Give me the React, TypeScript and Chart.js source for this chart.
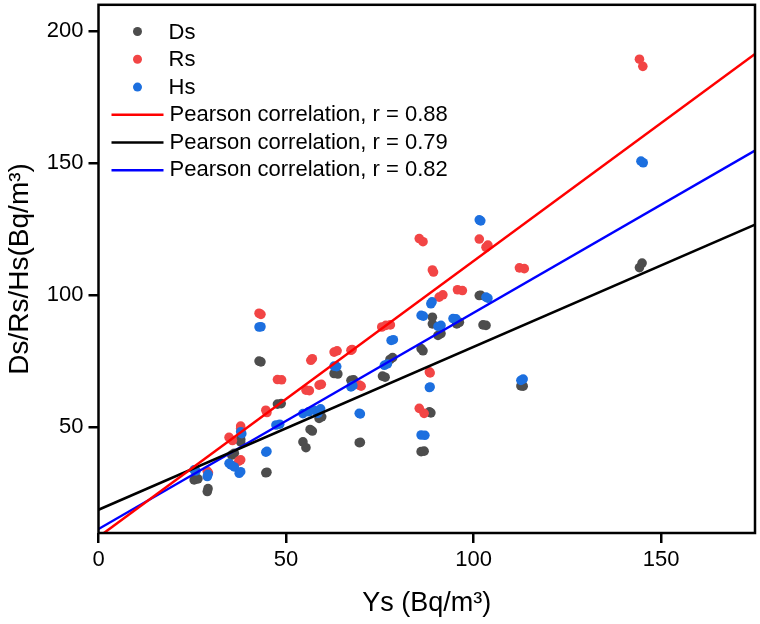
import React, { useEffect, useRef } from "react";
import { Chart, registerables } from "chart.js";

Chart.register(...registerables);

// Axis ticks
const xTicks = [0, 50, 100, 150];
const yTicks = [50, 100, 150, 200];
const xRange = [0, 175];
const yRange = [10, 210];

// Measurements: [Ys, value] — each site shows two replicate readings
const dsPoints: [number, number][] = [
  [25.5, 30.1], [26.5, 30.5],
  [29.0, 25.7], [29.2, 26.8],
  [35.5, 39.5], [36.2, 40.2],
  [37.9, 45.5], [37.9, 44.5],
  [42.8, 75.1], [43.3, 74.8],
  [44.6, 32.8], [44.9, 33.0],
  [47.7, 58.8], [48.7, 59.0],
  [54.5, 44.5], [55.3, 42.3],
  [56.4, 49.2], [57.0, 48.6],
  [58.8, 53.4], [59.5, 54.0],
  [62.8, 70.4], [63.8, 70.2],
  [67.3, 67.8], [68.0, 68.0],
  [69.5, 44.2], [69.8, 44.3],
  [75.7, 69.4], [76.4, 69.0],
  [77.7, 75.7], [78.4, 76.4],
  [86.0, 40.8], [86.8, 41.0],
  [88.2, 55.9], [88.6, 55.5],
  [86.0, 79.8], [86.5, 79.0],
  [89.0, 91.7], [89.0, 89.2],
  [91.3, 85.5], [90.5, 84.8],
  [96.2, 89.8], [95.5, 89.2],
  [101.5, 99.9], [101.9, 100.0],
  [103.3, 88.6], [102.5, 88.8],
  [112.6, 65.7], [113.2, 65.6],
  [144.2, 110.5], [144.9, 112.2],
];

const rsPoints: [number, number][] = [
  [29.0, 33.4], [29.3, 32.8],
  [34.8, 46.2], [35.7, 45.0],
  [37.9, 50.5], [37.9, 49.6],
  [37.9, 37.7], [37.4, 37.2],
  [42.8, 93.2], [43.3, 92.8],
  [44.6, 56.5], [44.9, 55.6],
  [47.7, 68.1], [48.8, 68.0],
  [55.3, 64.1], [56.2, 63.9],
  [56.6, 75.4], [57.0, 76.0],
  [58.8, 66.0], [59.4, 66.3],
  [62.8, 78.5], [63.6, 79.0],
  [67.3, 79.2], [67.6, 79.5],
  [69.5, 66.0], [70.0, 65.6],
  [75.5, 88.0], [76.6, 88.6], [77.8, 88.8],
  [85.5, 57.2], [86.8, 55.3],
  [88.2, 71.0], [88.4, 70.6],
  [85.5, 121.5], [86.5, 120.3],
  [89.0, 109.6], [89.3, 108.8],
  [90.8, 99.3], [91.8, 100.2],
  [95.7, 102.1], [97.0, 101.8],
  [101.5, 121.3], [103.3, 118.2], [103.8, 119.0],
  [112.2, 110.4], [113.5, 110.1],
  [144.2, 189.4], [145.1, 186.7],
];

const hsPoints: [number, number][] = [
  [25.5, 33.9], [26.0, 33.5],
  [29.0, 31.4], [29.2, 32.2],
  [34.8, 36.4], [35.3, 35.8], [36.2, 35.0],
  [37.5, 32.6], [37.9, 33.2],
  [37.9, 48.3], [38.2, 47.6],
  [42.8, 88.0], [43.3, 88.1],
  [44.6, 40.6], [44.9, 40.9],
  [47.3, 50.9], [48.3, 51.2],
  [54.5, 55.2], [56.0, 55.9], [57.5, 56.5], [58.5, 55.3], [59.2, 57.0],
  [62.8, 73.2], [63.5, 73.0],
  [67.3, 65.3], [67.8, 65.8],
  [69.5, 55.3], [69.8, 55.1],
  [76.2, 73.5], [77.0, 74.0],
  [78.0, 82.9], [78.6, 83.2],
  [86.0, 92.4], [86.6, 92.1],
  [86.0, 47.1], [87.0, 47.0],
  [88.2, 65.1], [88.4, 65.3],
  [88.6, 96.8], [88.9, 97.5],
  [91.3, 88.6], [90.5, 88.2],
  [95.3, 91.1], [94.5, 91.2],
  [101.5, 128.6], [101.9, 128.2],
  [103.3, 99.3], [103.8, 98.9],
  [112.6, 67.8], [113.2, 68.3],
  [144.6, 150.8], [145.2, 150.2],
];

// Linear fits, evaluated at the ends of the x range
const fitX = [0, 175];
const fitRs = [8.5, 191.4];
const fitDs = [18.8, 126.8];
const fitHs = [11.5, 154.8];

const seriesNames = ["Ds", "Rs", "Hs"];
const seriesColors = ["#4d4d4d", "#f24545", "#1c6fdf"];
const fitLabels = [
  "Pearson correlation, r = 0.88",
  "Pearson correlation, r = 0.79",
  "Pearson correlation, r = 0.82",
];
const fitColors = ["#ff0000", "#000000", "#0000ff"];

const FONT = '"Liberation Sans", Arial, sans-serif';

const toXY = (pts: [number, number][]) => pts.map(([x, y]) => ({ x, y }));
const fitLine = (ys: number[]) => fitX.map((x, i) => ({ x, y: ys[i] }));

// Frame around the plot area plus the legend drawn inside it
const framePlugin = {
  id: "frameAndLegend",
  afterDraw(chart: any) {
    const { ctx, chartArea } = chart;
    const { left, top, right, bottom } = chartArea;
    ctx.save();
    ctx.strokeStyle = "#000";
    ctx.lineWidth = 2.5;
    ctx.strokeRect(left, top, right - left, bottom - top);

    ctx.font = `22px ${FONT}`;
    ctx.textBaseline = "middle";
    ctx.textAlign = "left";
    seriesNames.forEach((name, i) => {
      const y = top + 26.7 + i * 27.8;
      ctx.beginPath();
      ctx.arc(left + 39, y, 4.5, 0, Math.PI * 2);
      ctx.fillStyle = seriesColors[i];
      ctx.fill();
      ctx.fillStyle = "#000";
      ctx.fillText(name, left + 70, y + 1);
    });
    fitLabels.forEach((label, i) => {
      const y = top + 110 + i * 27.7;
      ctx.beginPath();
      ctx.moveTo(left + 13, y);
      ctx.lineTo(left + 65, y);
      ctx.strokeStyle = fitColors[i];
      ctx.lineWidth = 2.5;
      ctx.stroke();
      ctx.fillStyle = "#000";
      ctx.fillText(label, left + 71, y);
    });
    ctx.restore();
  },
};

export default function App() {
  const canvasRef = useRef<HTMLCanvasElement | null>(null);

  useEffect(() => {
    if (!canvasRef.current) return;
    const pointStyle = (color: string, order: number) => ({
      type: "scatter" as const,
      backgroundColor: color,
      borderColor: color,
      borderWidth: 0,
      pointRadius: 4.8,
      pointHoverRadius: 4.8,
      order,
    });
    const lineStyle = (color: string) => ({
      type: "line" as const,
      borderColor: color,
      backgroundColor: color,
      borderWidth: 2.5,
      pointRadius: 0,
      fill: false,
      tension: 0,
      order: 0,
    });

    const chart = new Chart(canvasRef.current, {
      type: "scatter",
      data: {
        datasets: [
          { label: seriesNames[0], data: toXY(dsPoints), ...pointStyle(seriesColors[0], 3) },
          { label: seriesNames[1], data: toXY(rsPoints), ...pointStyle(seriesColors[1], 2) },
          { label: seriesNames[2], data: toXY(hsPoints), ...pointStyle(seriesColors[2], 1) },
          { label: fitLabels[0], data: fitLine(fitRs), ...lineStyle(fitColors[0]) },
          { label: fitLabels[1], data: fitLine(fitDs), ...lineStyle(fitColors[1]) },
          { label: fitLabels[2], data: fitLine(fitHs), ...lineStyle(fitColors[2]) },
        ] as any,
      },
      options: {
        animation: false,
        responsive: false,
        events: [],
        layout: { padding: { top: 4, right: 5, left: 0, bottom: 0 } },
        plugins: {
          legend: { display: false },
          tooltip: { enabled: false },
        },
        scales: {
          x: {
            type: "linear",
            min: xRange[0],
            max: xRange[1],
            afterBuildTicks: (scale: any) => {
              scale.ticks = xTicks.map((v) => ({ value: v }));
            },
            afterFit: (scale: any) => {
              scale.height = 91;
              scale.paddingLeft = 0;
              scale.paddingRight = 0;
            },
            grid: {
              display: true,
              drawOnChartArea: false,
              drawTicks: true,
              tickLength: 10,
              color: "#000",
              lineWidth: 2.5,
            },
            border: { display: false },
            ticks: {
              color: "#000",
              font: { family: FONT, size: 22 },
              padding: 4,
              maxRotation: 0,
            },
            title: {
              display: true,
              text: "Ys (Bq/m³)",
              color: "#000",
              font: { family: FONT, size: 27 },
              padding: { top: 0, bottom: 4 },
            },
          },
          y: {
            type: "linear",
            min: yRange[0],
            max: yRange[1],
            afterBuildTicks: (scale: any) => {
              scale.ticks = yTicks.map((v) => ({ value: v }));
            },
            afterFit: (scale: any) => {
              scale.width = 98.5;
              scale.paddingTop = 0;
              scale.paddingBottom = 0;
            },
            grid: {
              display: true,
              drawOnChartArea: false,
              drawTicks: true,
              tickLength: 10,
              color: "#000",
              lineWidth: 2.5,
            },
            border: { display: false },
            ticks: {
              color: "#000",
              font: { family: FONT, size: 22 },
              padding: 5,
            },
            title: {
              display: true,
              text: "Ds/Rs/Hs(Bq/m³)",
              color: "#000",
              font: { family: FONT, size: 28 },
              padding: { top: 3, bottom: 0 },
            },
          },
        },
      },
      plugins: [framePlugin],
    });

    return () => chart.destroy();
  }, []);

  return (
    <div
      style={{
        position: "fixed",
        left: 0,
        top: 0,
        width: 760,
        height: 624,
        background: "#fff",
      }}
    >
      <canvas ref={canvasRef} width={760} height={624} />
    </div>
  );
}
